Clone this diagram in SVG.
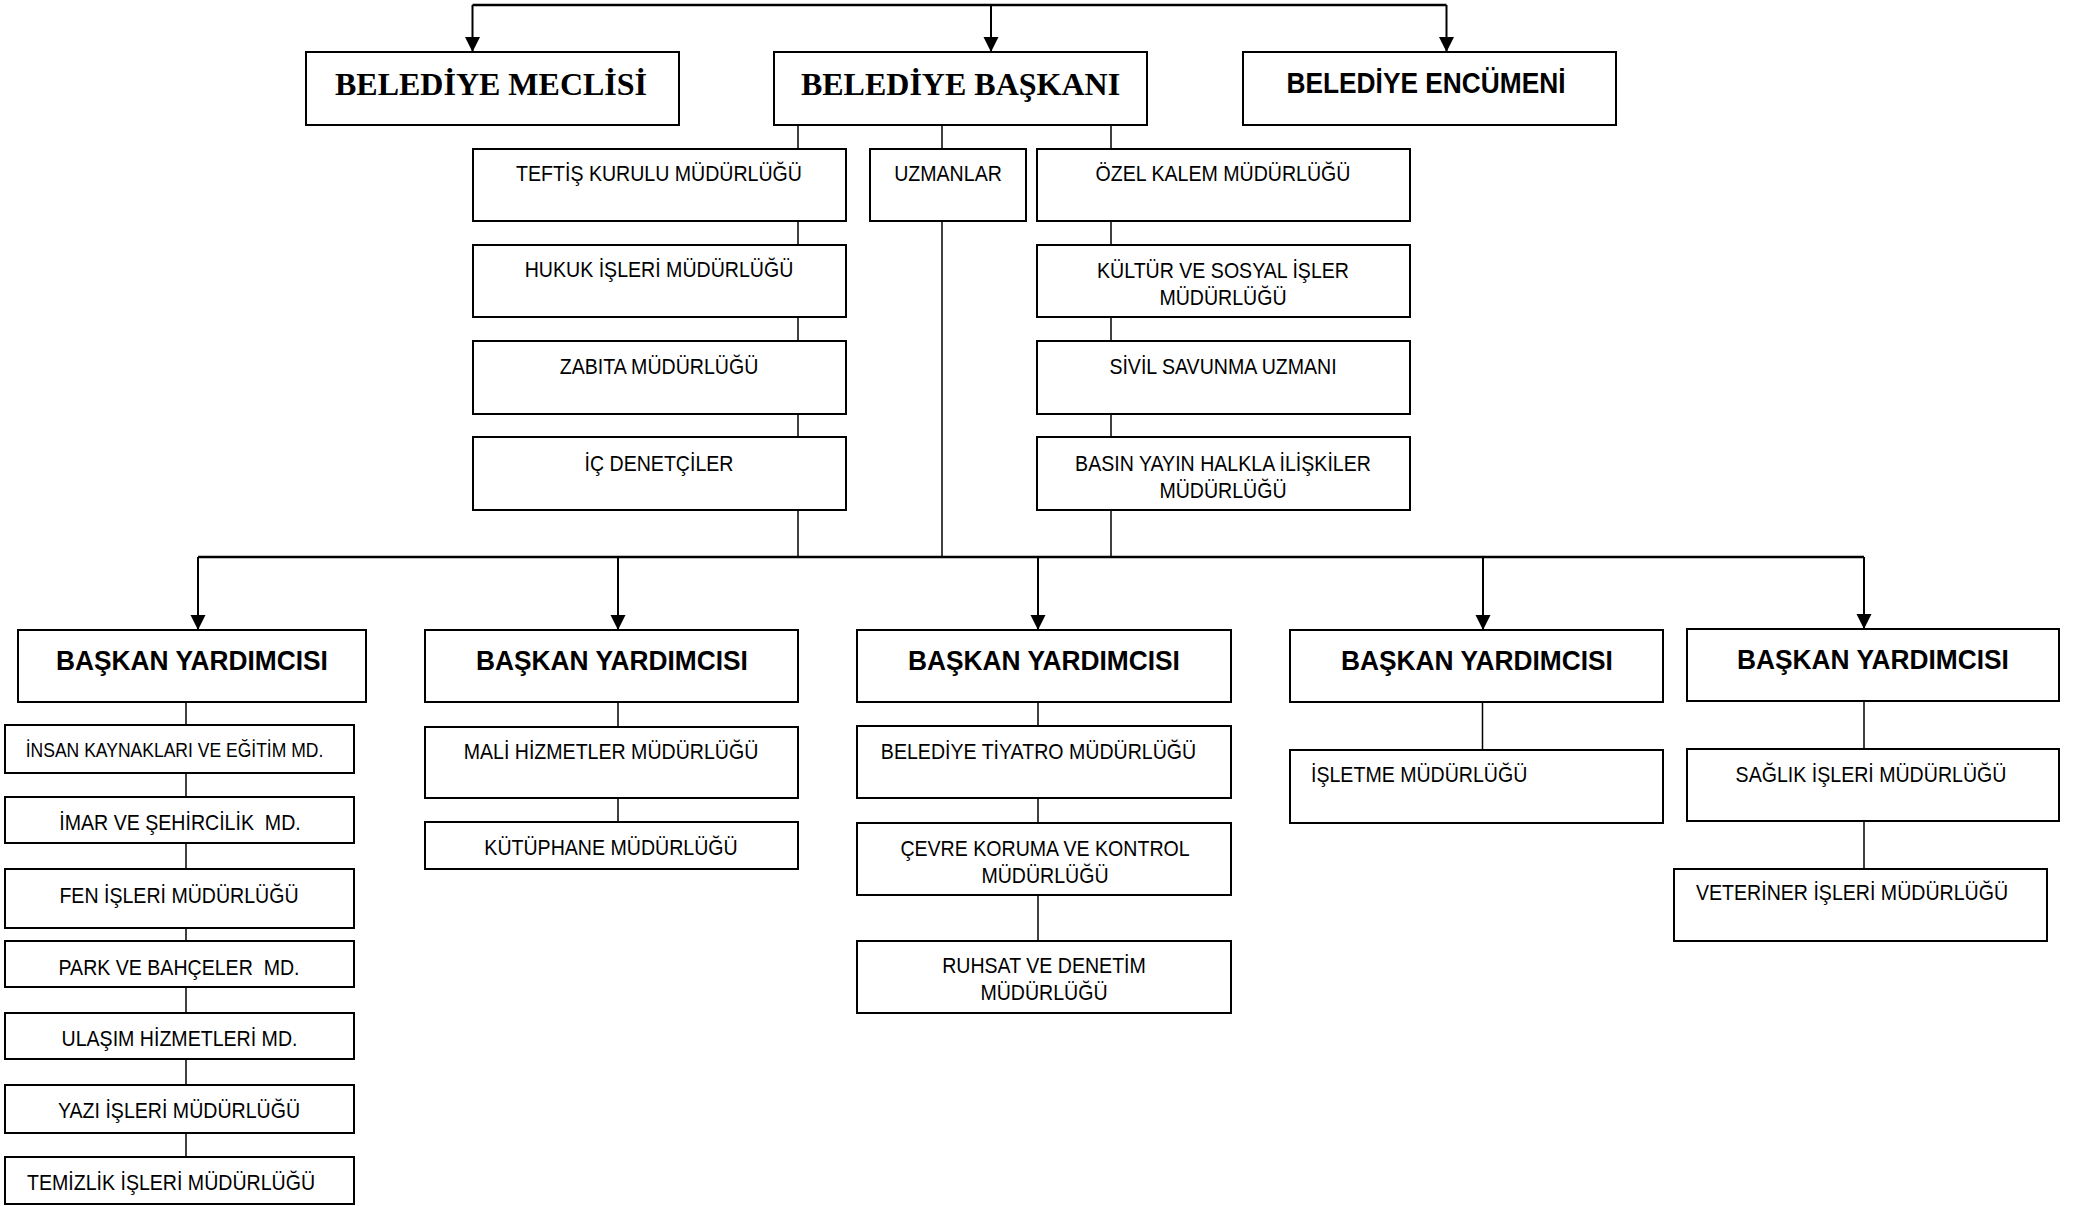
<svg xmlns="http://www.w3.org/2000/svg" width="2073" height="1206" viewBox="0 0 2073 1206">
<defs>
<style>
.box{fill:#fff;stroke:#000;stroke-width:2}
.ln{stroke:#000;stroke-width:1.5;fill:none}
.thick{stroke:#000;stroke-width:2.5;fill:none}
.arr{stroke:#000;stroke-width:2;fill:none;marker-end:url(#ah)}
.t{font-family:"Liberation Sans",Arial,sans-serif;font-size:22px;fill:#000;text-anchor:middle}
.ts{font-family:"Liberation Sans",Arial,sans-serif;font-size:22px;fill:#000;text-anchor:start}
.tb{font-family:"Liberation Sans",Arial,sans-serif;font-size:28px;font-weight:bold;fill:#000;text-anchor:middle}
.tt{font-family:"Liberation Serif","Times New Roman",serif;font-size:32px;font-weight:bold;fill:#000;text-anchor:middle}
</style>
<marker id="ah" markerUnits="userSpaceOnUse" markerWidth="16" markerHeight="16" refX="15" refY="7.5" orient="auto">
<path d="M0,0 L15,7.5 L0,15 Z" fill="#000"/>
</marker>
</defs>
<rect width="2073" height="1206" fill="#fff"/>
<g id="connectors">
<path class="thick" d="M472.5,5 H1446.5"/>
<path class="arr" d="M472.5,5 V52"/>
<path class="arr" d="M991,5 V52"/>
<path class="arr" d="M1446.5,5 V52"/>
<path class="ln" d="M798,125 V557"/>
<path class="ln" d="M942,125 V557"/>
<path class="ln" d="M1111,125 V557"/>
<path class="thick" d="M198,557 H1864"/>
<path class="arr" d="M198,557 V630"/>
<path class="arr" d="M618,557 V630"/>
<path class="arr" d="M1038,557 V630"/>
<path class="arr" d="M1483,557 V630"/>
<path class="arr" d="M1864,557 V629"/>
<path class="ln" d="M186,702 V1157"/>
<path class="ln" d="M618,702 V822"/>
<path class="ln" d="M1038,702 V941"/>
<path class="ln" d="M1482.5,702 V750"/>
<path class="ln" d="M1864,701 V869"/>
</g>
<g id="belediye-meclisi"><rect class="box" x="306" y="52" width="373" height="73"/><text class="tt" x="491" y="95">BELEDİYE MECLİSİ</text></g>
<g id="belediye-baskani"><rect class="box" x="774" y="52" width="373" height="73"/><text class="tt" x="960.5" y="95">BELEDİYE BAŞKANI</text></g>
<g id="belediye-encumeni"><rect class="box" x="1243" y="52" width="373" height="73"/><text class="tb" style="font-size:29px" transform="translate(1426,93) scale(0.907,1)">BELEDİYE ENCÜMENİ</text></g>

<g id="teftis"><rect class="box" x="473" y="149" width="373" height="72"/><text class="t" transform="translate(659,181) scale(0.89,1)">TEFTİŞ KURULU MÜDÜRLÜĞÜ</text></g>
<g id="uzmanlar"><rect class="box" x="870" y="149" width="156" height="72"/><text class="t" transform="translate(948,181) scale(0.89,1)">UZMANLAR</text></g>
<g id="ozel-kalem"><rect class="box" x="1037" y="149" width="373" height="72"/><text class="t" transform="translate(1223,181) scale(0.89,1)">ÖZEL KALEM MÜDÜRLÜĞÜ</text></g>
<g id="hukuk"><rect class="box" x="473" y="245" width="373" height="72"/><text class="t" transform="translate(659,277) scale(0.89,1)">HUKUK İŞLERİ MÜDÜRLÜĞÜ</text></g>
<g id="kultur"><rect class="box" x="1037" y="245" width="373" height="72"/><text class="t" transform="translate(1223,278) scale(0.89,1)">KÜLTÜR VE SOSYAL İŞLER<tspan x="0" dy="27">MÜDÜRLÜĞÜ</tspan></text></g>
<g id="zabita"><rect class="box" x="473" y="341" width="373" height="73"/><text class="t" transform="translate(659,374) scale(0.89,1)">ZABITA MÜDÜRLÜĞÜ</text></g>
<g id="sivil"><rect class="box" x="1037" y="341" width="373" height="73"/><text class="t" transform="translate(1223,374) scale(0.89,1)">SİVİL SAVUNMA UZMANI</text></g>
<g id="ic-denetciler"><rect class="box" x="473" y="437" width="373" height="73"/><text class="t" transform="translate(659,471) scale(0.89,1)">İÇ DENETÇİLER</text></g>
<g id="basin"><rect class="box" x="1037" y="437" width="373" height="73"/><text class="t" transform="translate(1223,471) scale(0.89,1)">BASIN YAYIN HALKLA İLİŞKİLER<tspan x="0" dy="27">MÜDÜRLÜĞÜ</tspan></text></g>

<g id="by1"><rect class="box" x="18" y="630" width="348" height="72"/><text class="tb" transform="translate(192,670) scale(0.94,1)">BAŞKAN YARDIMCISI</text></g>
<g id="by2"><rect class="box" x="425" y="630" width="373" height="72"/><text class="tb" transform="translate(612,670) scale(0.94,1)">BAŞKAN YARDIMCISI</text></g>
<g id="by3"><rect class="box" x="857" y="630" width="374" height="72"/><text class="tb" transform="translate(1044,670) scale(0.94,1)">BAŞKAN YARDIMCISI</text></g>
<g id="by4"><rect class="box" x="1290" y="630" width="373" height="72"/><text class="tb" transform="translate(1477,670) scale(0.94,1)">BAŞKAN YARDIMCISI</text></g>
<g id="by5"><rect class="box" x="1687" y="629" width="372" height="72"/><text class="tb" transform="translate(1873,669) scale(0.94,1)">BAŞKAN YARDIMCISI</text></g>

<g id="insan"><rect class="box" x="5" y="725" width="349" height="48"/><text class="t" style="font-size:21px" transform="translate(174.5,757) scale(0.835,1)">İNSAN KAYNAKLARI VE EĞİTİM MD.</text></g>
<g id="imar"><rect class="box" x="5" y="797" width="349" height="46"/><text class="t" transform="translate(180,830) scale(0.89,1)">İMAR VE ŞEHİRCİLİK&#160; MD.</text></g>
<g id="fen"><rect class="box" x="5" y="869" width="349" height="59"/><text class="t" transform="translate(179,903) scale(0.89,1)">FEN İŞLERİ MÜDÜRLÜĞÜ</text></g>
<g id="park"><rect class="box" x="5" y="941" width="349" height="46"/><text class="t" transform="translate(179,975) scale(0.89,1)">PARK VE BAHÇELER&#160; MD.</text></g>
<g id="ulasim"><rect class="box" x="5" y="1013" width="349" height="46"/><text class="t" transform="translate(179.5,1046) scale(0.89,1)">ULAŞIM HİZMETLERİ MD.</text></g>
<g id="yazi"><rect class="box" x="5" y="1085" width="349" height="48"/><text class="t" transform="translate(179,1118) scale(0.89,1)">YAZI İŞLERİ MÜDÜRLÜĞÜ</text></g>
<g id="temizlik"><rect class="box" x="5" y="1157" width="349" height="47"/><text class="t" transform="translate(171,1190) scale(0.89,1)">TEMİZLİK İŞLERİ MÜDÜRLÜĞÜ</text></g>

<g id="mali"><rect class="box" x="425" y="727" width="373" height="71"/><text class="t" transform="translate(611,759) scale(0.89,1)">MALİ HİZMETLER MÜDÜRLÜĞÜ</text></g>
<g id="kutuphane"><rect class="box" x="425" y="822" width="373" height="47"/><text class="t" transform="translate(611,855) scale(0.89,1)">KÜTÜPHANE MÜDÜRLÜĞÜ</text></g>

<g id="tiyatro"><rect class="box" x="857" y="726" width="374" height="72"/><text class="t" transform="translate(1038.5,759) scale(0.89,1)">BELEDİYE TİYATRO MÜDÜRLÜĞÜ</text></g>
<g id="cevre"><rect class="box" x="857" y="823" width="374" height="72"/><text class="t" transform="translate(1045,856) scale(0.89,1)">ÇEVRE KORUMA VE KONTROL<tspan x="0" dy="27">MÜDÜRLÜĞÜ</tspan></text></g>
<g id="ruhsat"><rect class="box" x="857" y="941" width="374" height="72"/><text class="t" transform="translate(1044,973) scale(0.89,1)">RUHSAT VE DENETİM<tspan x="0" dy="27">MÜDÜRLÜĞÜ</tspan></text></g>

<g id="isletme"><rect class="box" x="1290" y="750" width="373" height="73"/><text class="ts" transform="translate(1311,782) scale(0.89,1)">İŞLETME MÜDÜRLÜĞÜ</text></g>

<g id="saglik"><rect class="box" x="1687" y="749" width="372" height="72"/><text class="t" transform="translate(1871,782) scale(0.89,1)">SAĞLIK İŞLERİ MÜDÜRLÜĞÜ</text></g>
<g id="veteriner"><rect class="box" x="1674" y="869" width="373" height="72"/><text class="t" transform="translate(1852,900) scale(0.89,1)">VETERİNER İŞLERİ MÜDÜRLÜĞÜ</text></g>
</svg>
